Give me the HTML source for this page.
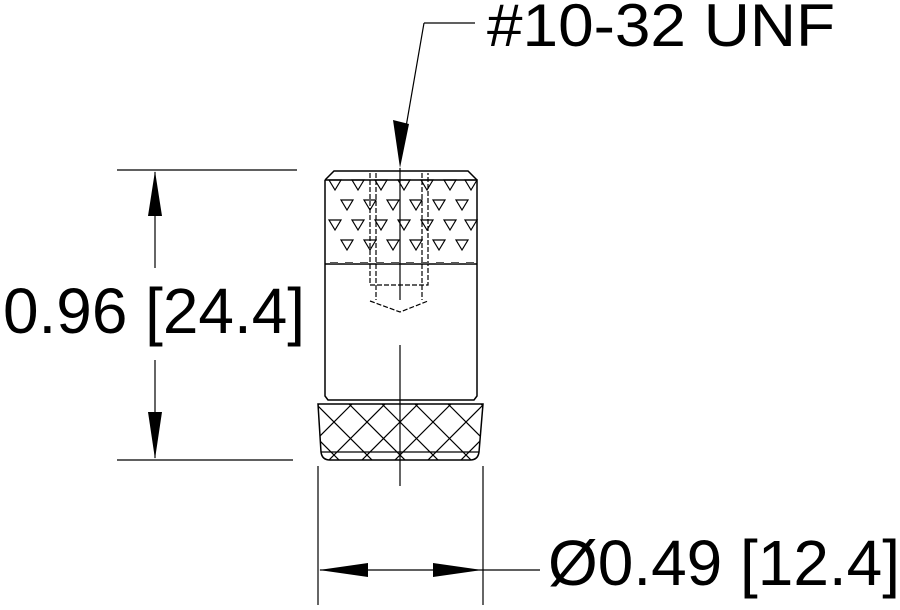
<!DOCTYPE html>
<html><head><meta charset="utf-8"><style>html,body{margin:0;padding:0;background:#fff}svg{display:block}</style></head>
<body>
<svg width="900" height="610" viewBox="0 0 900 610" xmlns="http://www.w3.org/2000/svg">
<defs>
<clipPath id="kc"><path d="M318,404 L483,404 L479,452 Q478,460 470,460 L330,460 Q322,460 321,452 Z"/></clipPath>
<g id="tri"><path d="M-6,-5 L6,-5 L0,5 Z" fill="none" stroke="#000" stroke-width="1.2"/></g>
</defs>
<g stroke="#000" fill="none" stroke-width="1.5">
<path d="M325,180 L334,171 L468,171 L477,180"/>
<line x1="325" y1="180" x2="477" y2="180"/>
<path d="M325,180 L325,396 L328,400 L474,400 L477,396 L477,180"/>
<line x1="325" y1="264" x2="477" y2="264"/>
<path d="M318,404 L483,404 L479,452 Q478,460 470,460 L330,460 Q322,460 321,452 Z"/>
<line x1="321" y1="452" x2="479" y2="452" stroke-width="1.2"/>
<g clip-path="url(#kc)" stroke-width="1.2">
<path d="M250,404 l60,60 M283,404 l60,60 M316,404 l60,60 M349,404 l60,60 M382,404 l60,60 M415,404 l60,60 M448,404 l60,60 M481,404 l60,60 M217,404 l60,60
M550,404 l-60,60 M517,404 l-60,60 M484,404 l-60,60 M451,404 l-60,60 M418,404 l-60,60 M385,404 l-60,60 M352,404 l-60,60 M319,404 l-60,60 M583,404 l-60,60"/>
</g>
<g stroke-dasharray="5,2" stroke-width="1.2">
<path d="M370,173 L370,285 L428,285 L428,173"/>
<path d="M376,173 L376,300 M422,173 L422,300"/>
<path d="M370,301 L400,312 L428,301"/>
</g>
<line x1="400" y1="168" x2="400" y2="300" stroke-width="1.2"/>
<line x1="400" y1="345" x2="400" y2="486" stroke-width="1.2"/>
<line x1="117" y1="170" x2="297" y2="170" stroke-width="1.2"/>
<line x1="117" y1="460" x2="293" y2="460" stroke-width="1.2"/>
<line x1="155" y1="172" x2="155" y2="268" stroke-width="1.2"/>
<line x1="155" y1="360" x2="155" y2="458" stroke-width="1.2"/>
<line x1="318" y1="466" x2="318" y2="605" stroke-width="1.2"/>
<line x1="483" y1="466" x2="483" y2="605" stroke-width="1.2"/>
<line x1="320" y1="570" x2="540" y2="570" stroke-width="1.2"/>
<path d="M424,23 L475,23 M424,23 L402,150" stroke-width="1.2"/>
</g>
<g fill="#000">
<path d="M155,171 L148,216 L162,216 Z"/>
<path d="M155,459 L148,412 L162,412 Z"/>
<path d="M319,570 L368,563 L368,577 Z"/>
<path d="M482,570 L433,563 L433,577 Z"/>
<path d="M400,168 L393,120 L409,124 Z"/>
</g>
<g>
<use href="#tri" x="335" y="185"/><use href="#tri" x="358" y="185"/><use href="#tri" x="381" y="185"/><use href="#tri" x="404" y="185"/><use href="#tri" x="427" y="185"/><use href="#tri" x="450" y="185"/><use href="#tri" x="471" y="185"/>
<use href="#tri" x="347" y="205"/><use href="#tri" x="370" y="205"/><use href="#tri" x="393" y="205"/><use href="#tri" x="416" y="205"/><use href="#tri" x="439" y="205"/><use href="#tri" x="462" y="205"/>
<use href="#tri" x="335" y="225"/><use href="#tri" x="358" y="225"/><use href="#tri" x="381" y="225"/><use href="#tri" x="404" y="225"/><use href="#tri" x="427" y="225"/><use href="#tri" x="450" y="225"/><use href="#tri" x="471" y="225"/>
<use href="#tri" x="347" y="245"/><use href="#tri" x="370" y="245"/><use href="#tri" x="393" y="245"/><use href="#tri" x="416" y="245"/><use href="#tri" x="439" y="245"/><use href="#tri" x="462" y="245"/>
</g>
<g fill="#555">
<rect x="330" y="262" width="8" height="2"/><rect x="345" y="262" width="8" height="2"/><rect x="360" y="262" width="8" height="2"/><rect x="376" y="262" width="8" height="2"/><rect x="391" y="262" width="8" height="2"/><rect x="406" y="262" width="8" height="2"/><rect x="421" y="262" width="8" height="2"/><rect x="436" y="262" width="8" height="2"/><rect x="451" y="262" width="8" height="2"/><rect x="466" y="262" width="8" height="2"/>
</g>
<g font-family="Liberation Sans, sans-serif" fill="#000">
<text x="487" y="46" font-size="60" textLength="348" lengthAdjust="spacingAndGlyphs">#10-32 UNF</text>
<text x="3" y="333" font-size="64" textLength="302" lengthAdjust="spacingAndGlyphs">0.96 [24.4]</text>
<text x="548" y="585" font-size="64" textLength="352" lengthAdjust="spacingAndGlyphs">Ø0.49 [12.4]</text>
</g>
</svg>
</body></html>
